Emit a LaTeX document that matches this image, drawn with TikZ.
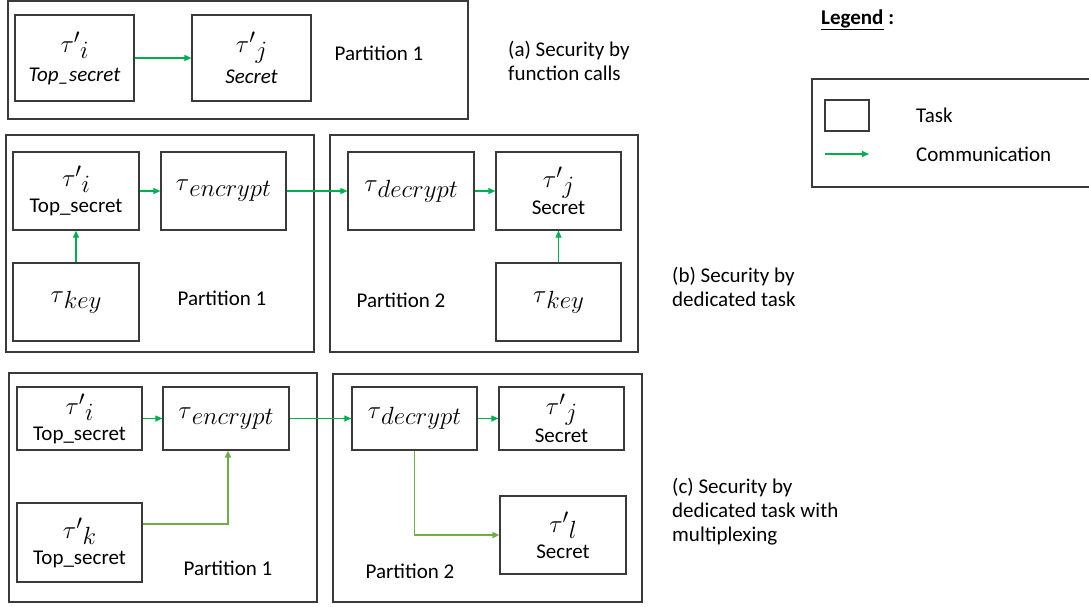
\documentclass[tikz,border=0pt]{standalone}
\usepackage{fontspec}
\setmainfont{Carlito}
\usetikzlibrary{arrows.meta,calc}
\definecolor{arrgreen}{HTML}{00B050}
\definecolor{muxgreen}{HTML}{70AD47}
\definecolor{boxgray}{HTML}{3A3A3A}
\newcommand\tauT[2]{{\fontsize{32}{32}\selectfont$\tau#1$}\raisebox{-6pt}{\fontsize{24}{24}\selectfont$#2$}}
\begin{document}
\begin{tikzpicture}[x=1pt,y=-1pt,
  every node/.style={font=\fontsize{21}{24}\selectfont, inner sep=0pt},
  part/.style={draw=boxgray, line width=1.2pt, rectangle},
  task/.style={draw=boxgray, line width=1.2pt, rectangle, align=center},
  lbl/.style={align=left, anchor=west},
  comm/.style={draw=arrgreen, line width=1.1pt, -{Triangle[length=7pt,width=6pt]}},
  mux/.style={draw=muxgreen, line width=1.8pt, -{Triangle[length=7pt,width=6pt]}}]
\useasboundingbox (0,0) rectangle (1089,606);
% ---------- (a)
\node[part, minimum width=460, minimum height=118] (pa) at (238,60) {};
\node[task, minimum width=119, minimum height=86] (ai) at (74.5,58) {\tauT{'}{i}\\[5pt]\textit{Top\_secret}};
\node[task, minimum width=119, minimum height=86] (aj) at (251.5,58) {\tauT{'}{j}\\[5pt]\textit{Secret}};
\node (pa1) at (379,53) {Partition 1};
\node[lbl] (ta) at (508,61) {(a) Security by\\function calls};
\draw[comm] (ai) -- (aj);
% ---------- (b)
\node[part, minimum width=308, minimum height=217] (pb1) at (160,243.5) {};
\node[part, minimum width=308, minimum height=217] (pb2) at (484,243.5) {};
\node[task, minimum width=126, minimum height=78] (bi) at (76,191) {\tauT{'}{i}\\[2pt]Top\_secret};
\node[task, minimum width=125, minimum height=78] (benc) at (223.5,191) {\tauT{}{encrypt}};
\node[task, minimum width=126, minimum height=78] (bkey) at (76,302) {\tauT{}{key}};
\node[task, minimum width=126, minimum height=78] (bdec) at (411,191) {\tauT{}{decrypt}};
\node[task, minimum width=125, minimum height=78] (bj) at (558.5,191) {\tauT{'}{j}\\[2pt]Secret};
\node[task, minimum width=125, minimum height=78] (bkey2) at (558.5,302) {\tauT{}{key}};
\node (pb1l) at (222,298) {Partition 1};
\node (pb2l) at (401,300) {Partition 2};
\node[lbl] (tb) at (672,287) {(b) Security by\\dedicated task};
\draw[comm] (bi) -- (benc);
\draw[comm] (bkey) -- (bi);
\draw[comm] (benc) -- (bdec);
\draw[comm] (bdec) -- (bj);
\draw[comm] (bkey2) -- (bj);
% ---------- (c)
\node[part, minimum width=308, minimum height=229] (pc1) at (163,487.5) {};
\node[part, minimum width=309, minimum height=228] (pc2) at (487.5,488) {};
\node[task, minimum width=125, minimum height=63] (ci) at (79.5,418.5) {\tauT{'}{i}\\[2pt]Top\_secret};
\node[task, minimum width=126, minimum height=63] (cenc) at (226,418.5) {\tauT{}{encrypt}};
\node[task, minimum width=125, minimum height=79] (ck) at (79.5,542.5) {\tauT{'}{k}\\[2pt]Top\_secret};
\node[task, minimum width=125, minimum height=63] (cdec) at (414.5,418.5) {\tauT{}{decrypt}};
\node[task, minimum width=125, minimum height=63] (cj) at (561.5,418.5) {\tauT{'}{j}\\[2pt]Secret};
\node[task, minimum width=126, minimum height=78] (cl) at (563,535) {\tauT{'}{l}\\[2pt]Secret};
\node (pc1l) at (228,568) {Partition 1};
\node (pc2l) at (410,571) {Partition 2};
\node[lbl] (tc) at (672,512) {(c) Security by\\dedicated task with\\multiplexing};
\draw[comm] (ci) -- (cenc);
\draw[comm] (cenc) -- (cdec);
\draw[comm] (cdec) -- (cj);
\draw[mux] ($(ck.north east)!0.27!(ck.south east)$) -| ($(cenc.south)+(2,0)$);
\draw[mux] (cdec.south) |- (cl.west);
% ---------- legend
\node[lbl] (lgt) at (821,20) {\textbf{\underline{Legend} :}};
\node[part, minimum width=283, minimum height=108] (lgbox) at (953.5,133) {};
\node[task, minimum width=44, minimum height=31] (lgtask) at (847,115.5) {};
\node[lbl] (lgtl) at (916,115) {Task};
\coordinate (lga) at (825,154);
\coordinate (lgb) at (869,154);
\draw[comm] (lga) -- (lgb);
\node[lbl] (lgcl) at (916,154) {Communication};
\end{tikzpicture}
\end{document}
